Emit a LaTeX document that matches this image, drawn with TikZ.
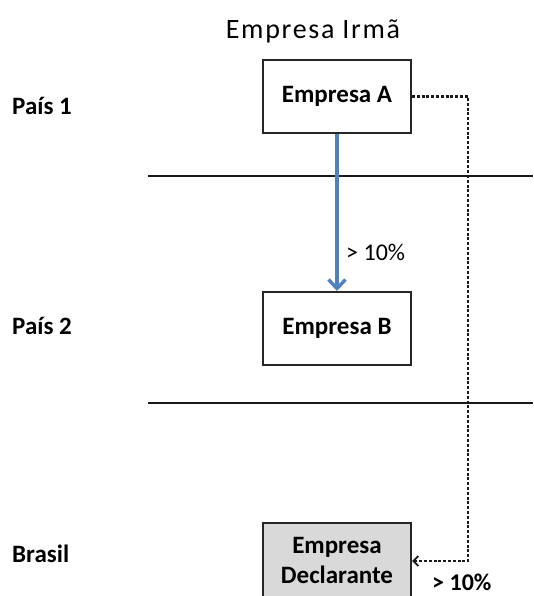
\documentclass[tikz,border=0pt]{standalone}
\usepackage{fontspec}
\setmainfont{Carlito}
\usetikzlibrary{arrows.meta}
\definecolor{blueArr}{HTML}{4F81BD}
\definecolor{boxGray}{HTML}{D9D9D9}
\begin{document}
\begin{tikzpicture}[x=1pt,y=-1pt,
  company/.style={draw=black!85, line width=2pt, minimum width=148pt, minimum height=73pt, inner sep=0pt, align=center, font=\fontsize{25}{30}\selectfont\bfseries},
  country/.style={anchor=west, inner sep=0pt, font=\fontsize{25}{28}\selectfont\bfseries},
  sep/.style={line width=2.4pt, black!90},
  pct/.style={inner sep=0pt, anchor=west}
]
\useasboundingbox (0,0) rectangle (533,596);
\node[font=\fontsize{28}{32}\selectfont\addfontfeature{LetterSpace=6}, inner sep=0pt] (title) at (313,31) {Empresa Irmã};
\node[company] (A) at (337,96.5) {Empresa A};
\node[company] (B) at (337,328.5) {Empresa B};
\node[company, fill=boxGray, minimum height=74pt] (C) at (337,560) {Empresa\\Declarante};
\node[country] (p1) at (12,106) {País 1};
\node[country] (p2) at (12,326) {País 2};
\node[country] (br) at (12,554) {Brasil};
\coordinate (l1a) at (148,176); \coordinate (l1b) at (533,176);
\coordinate (l2a) at (148,403); \coordinate (l2b) at (533,403);
\draw[sep] (l1a) -- (l1b);
\draw[sep] (l2a) -- (l2b);
\draw[blueArr, line width=3.4pt, -{Straight Barb[length=9pt,width=17pt,line width=3.4pt]}] (A.south) -- (B.north);
\node[pct, font=\fontsize{24}{28}\selectfont] (pa) at (346,252) {> 10\%};
\coordinate (d1) at (468,96.5);
\coordinate (d2) at (468,561);
\draw[black!90, line width=2.2pt, dash pattern=on 3pt off 1.8pt, -{Straight Barb[length=5pt,width=10pt,line width=1.8pt]}] (A.east) -- (d1) -- (d2) -- (C.east |- d2);
\node[pct, font=\fontsize{24}{28}\selectfont\bfseries] (pb) at (432,582) {> 10\%};
\end{tikzpicture}
\end{document}
